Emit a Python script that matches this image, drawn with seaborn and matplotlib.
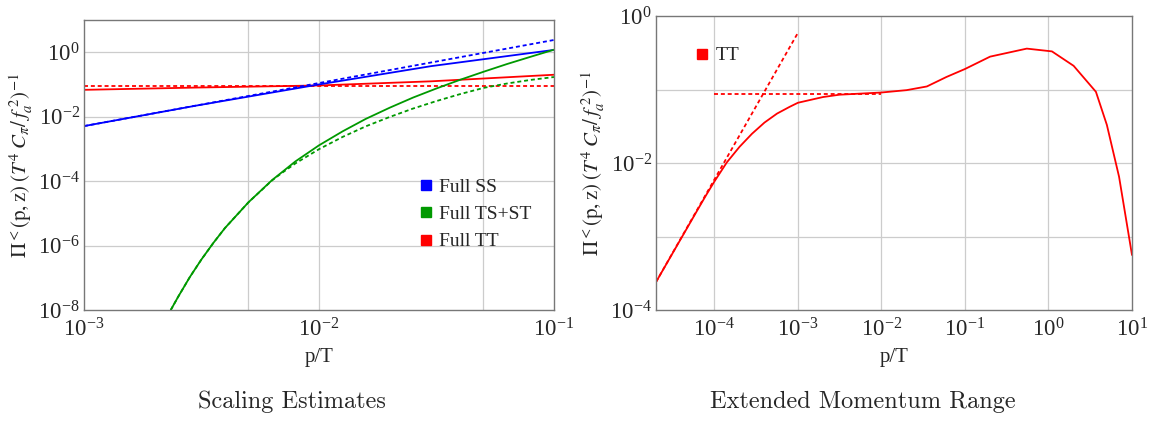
import numpy as np
import pandas as pd
import matplotlib
matplotlib.use("Agg")
import matplotlib.pyplot as plt
import seaborn as sns
from matplotlib.lines import Line2D

# ---------------- data ----------------
# Left panel: "Scaling Estimates"
ss_full_p = [1e-3, 3e-3, 1e-2, 3e-2, 1e-1]
ss_full_v = [5.1e-3, 2.2e-2, 0.10, 0.37, 1.18]
ss_est_p = [1e-3, 1e-1]
ss_est_v = [5.1e-3, 2.4]

tsst_full_p = [2.34e-3, 2.51e-3, 2.82e-3, 3.16e-3, 3.55e-3, 3.98e-3, 5.01e-3, 6.31e-3,
               7.94e-3, 1.0e-2, 1.26e-2, 1.58e-2, 2.0e-2, 2.51e-2, 3.16e-2, 3.98e-2,
               5.01e-2, 6.31e-2, 7.94e-2, 1.0e-1]
tsst_full_v = [1.0e-8, 2.5e-8, 1.05e-7, 3.7e-7, 1.2e-6, 3.5e-6, 2.2e-5, 1.07e-4,
               4.1e-4, 1.29e-3, 3.5e-3, 8.5e-3, 1.9e-2, 3.9e-2, 7.5e-2, 0.139,
               0.247, 0.43, 0.72, 1.2]
tsst_est_p = [2.34e-3, 2.51e-3, 2.82e-3, 3.16e-3, 3.55e-3, 3.98e-3, 5.01e-3, 6.31e-3,
              6.92e-3, 7.94e-3, 1.0e-2, 1.26e-2, 1.58e-2, 2.0e-2, 2.51e-2, 3.16e-2,
              3.98e-2, 5.01e-2, 6.31e-2, 7.94e-2, 1.0e-1]
tsst_est_v = [1.0e-8, 2.5e-8, 1.05e-7, 3.7e-7, 1.2e-6, 3.5e-6, 2.2e-5, 1.05e-4,
              1.75e-4, 3.55e-4, 9.8e-4, 2.35e-3, 5.0e-3, 9.8e-3, 1.78e-2, 3.05e-2,
              5.0e-2, 7.8e-2, 0.107, 0.138, 0.17]

tt_full_p = [1e-3, 3e-3, 1e-2, 3e-2, 1e-1]
tt_full_v = [0.068, 0.080, 0.093, 0.125, 0.20]
tt_est_p = [1e-3, 1e-1]
tt_est_v = [0.09, 0.09]

# Right panel: "Extended Momentum Range"
ext_p = [2e-5, 6e-5, 7.9e-5, 1e-4, 1.41e-4, 2e-4, 2.82e-4, 3.98e-4, 5.62e-4, 7.94e-4,
         1e-3, 2e-3, 3.16e-3, 1e-2, 2e-2, 3.5e-2, 6e-2, 1e-1, 2e-1, 5.5e-1, 1.1,
         2.0, 3.7, 5.0, 7.0, 10.0]
ext_v = [2.4e-4, 2.1e-3, 3.6e-3, 5.6e-3, 1.02e-2, 1.66e-2, 2.5e-2, 3.55e-2, 4.7e-2,
         5.8e-2, 6.6e-2, 7.9e-2, 8.5e-2, 9.1e-2, 9.8e-2, 0.11, 0.148, 0.19, 0.28,
         0.36, 0.33, 0.21, 0.093, 0.033, 6.5e-3, 5.6e-4]
ext_ir_p = [2e-5, 1e-3]
ext_ir_v = [2.4e-4, 0.59]
ext_flat_p = [1e-4, 1e-2]
ext_flat_v = [0.088, 0.088]

legend_left = ["Full SS", "Full TS+ST", "Full TT"]
legend_right = ["TT"]
title_left = "Scaling Estimates"
title_right = "Extended Momentum Range"

BLUE, GREEN, RED = "#0000ff", "#009900", "#ff0000"

# ---------------- style ----------------
sns.set_theme(style="white")
plt.rcParams["font.family"] = ["Liberation Serif", "DejaVu Serif"]
plt.rcParams["mathtext.fontset"] = "stix"
plt.rcParams["axes.edgecolor"] = "#666666"
plt.rcParams["axes.linewidth"] = 1.0

fig = plt.figure(figsize=(11.6, 4.21), dpi=100)
axL = fig.add_axes([84 / 1160, 1 - 310 / 421, 470 / 1160, 290 / 421])
axR = fig.add_axes([656 / 1160, 1 - 310 / 421, 476 / 1160, 294 / 421])

dot = (0, (2.2, 1.6))
lw = 1.3


def draw(ax, p, v, color, ls):
    df = pd.DataFrame({"p": p, "v": v})
    sns.lineplot(data=df, x="p", y="v", ax=ax, color=color, lw=lw,
                 linestyle=ls, sort=False, estimator=None, legend=False)


for ax in (axL, axR):
    ax.set_xscale("log")
    ax.set_yscale("log")

# grid lines
for x in [5e-3, 1e-2, 5e-2]:
    axL.axvline(x, color="#cccccc", lw=0.9, zorder=0)
for y in [1e0, 1e-2, 1e-4, 1e-6]:
    axL.axhline(y, color="#cccccc", lw=0.9, zorder=0)
for x in [1e-4, 1e-3, 1e-2, 1e-1, 1e0]:
    axR.axvline(x, color="#cccccc", lw=0.9, zorder=0)
for y in [1e-1, 1e-2, 1e-3]:
    axR.axhline(y, color="#cccccc", lw=0.9, zorder=0)

draw(axL, tt_est_p, tt_est_v, RED, dot)
draw(axL, tt_full_p, tt_full_v, RED, "-")
draw(axL, ss_est_p, ss_est_v, BLUE, dot)
draw(axL, ss_full_p, ss_full_v, BLUE, "-")
draw(axL, tsst_est_p, tsst_est_v, GREEN, dot)
draw(axL, tsst_full_p, tsst_full_v, GREEN, "-")

draw(axR, ext_ir_p, ext_ir_v, RED, dot)
draw(axR, ext_flat_p, ext_flat_v, RED, dot)
draw(axR, ext_p, ext_v, RED, "-")

axL.set_xlim(1e-3, 1e-1)
axL.set_ylim(1e-8, 1e1)
axL.set_xticks([1e-3, 1e-2, 1e-1])
axL.set_yticks([1e-8, 1e-6, 1e-4, 1e-2, 1e0])
axR.set_xlim(2e-5, 10)
axR.set_ylim(1e-4, 1e0)
axR.set_xticks([1e-4, 1e-3, 1e-2, 1e-1, 1e0, 1e1])
axR.set_yticks([1e-4, 1e-2, 1e0])

ylab = r"$\Pi^{<}(\mathrm{p,z})\;(T^4\;C_{\pi}/\,f_a^{\ 2})^{-1}$"
for ax in (axL, axR):
    ax.minorticks_off()
    ax.tick_params(axis="both", which="major", direction="in", length=3,
                   width=0.8, color="#444444", labelsize=16.5, pad=3)
    ax.tick_params(axis="x", pad=6)
    ax.set_xlabel("p/T", fontsize=15, labelpad=5)
    ax.set_ylabel(ylab, fontsize=15, labelpad=2)
    for s in ax.spines.values():
        s.set_color("#777777")

# legends
hL = [Line2D([], [], marker="s", ls="none", color=c, markersize=6.5)
      for c in (BLUE, GREEN, RED)]
axL.legend(hL, legend_left, loc="center left", bbox_to_anchor=(0.665, 0.33),
           frameon=False, fontsize=14, handletextpad=0.1, labelspacing=0.5,
           handlelength=1.2)
hR = [Line2D([], [], marker="s", ls="none", color=RED, markersize=6.5)]
axR.legend(hR, legend_right, loc="center left", bbox_to_anchor=(0.035, 0.865),
           frameon=False, fontsize=14, handletextpad=0.1, handlelength=1.2)

fig.text(0.2517, 1 - 402 / 421, title_left, ha="center", va="center",
         fontsize=17.5, family=["cmr10", "DejaVu Serif"])
fig.text(0.744, 1 - 402 / 421, title_right, ha="center", va="center",
         fontsize=17.5, family=["cmr10", "DejaVu Serif"])

fig.savefig("out.png", dpi=100)
